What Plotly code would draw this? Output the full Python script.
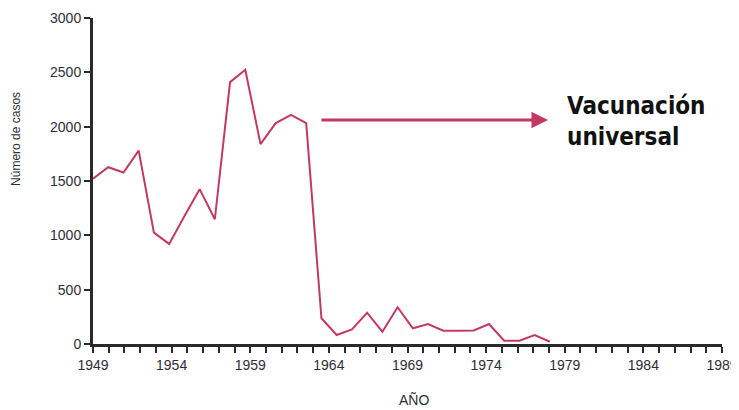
import plotly.graph_objects as go

# ---- data ----
years = list(range(1949, 1980))
cases = [1520, 1627, 1578, 1780, 1025, 921, 1175, 1425, 1148, 2410,
         2524, 1839, 2033, 2109, 2033, 237, 83, 135, 288, 113,
         338, 145, 184, 123, 123, 125, 184, 30, 30, 83, 21]

axis_years = [1949, 1989]          # labelled axis span
y_range = [0, 3000]
y_title = "Número de casos"
x_title = "AÑO"
note_text = "Vacunación<br>universal"

LINE_COLOR = "#c23a63"
AXIS_COLOR = "#2a2a2a"
TEXT_COLOR = "#2e2e38"

# the plotted series is drawn a little tighter than the printed year scale
data_span_end = 1990.3

fig = go.Figure()
# empty carrier trace so the labelled year axis is drawn (no marks)
fig.add_trace(go.Scatter(x=axis_years, y=[None, None], mode="lines",
                         xaxis="x", yaxis="y", hoverinfo="skip", showlegend=False))
fig.add_trace(go.Scatter(
    x=years, y=cases, mode="lines",
    line=dict(color=LINE_COLOR, width=2),
    xaxis="x2", yaxis="y", hoverinfo="skip", showlegend=False,
))

tickfont = dict(family="Liberation Sans, Arial, sans-serif", size=14, color=TEXT_COLOR)

fig.update_layout(
    width=731, height=402,
    margin=dict(l=85, r=17, t=10, b=66, autoexpand=False),
    paper_bgcolor="white", plot_bgcolor="white",
    showlegend=False,
    xaxis=dict(
        range=axis_years, tick0=1949, dtick=5, automargin=False,
        ticks="outside", ticklen=6, tickwidth=2, tickcolor=AXIS_COLOR,
        minor=dict(dtick=1, tick0=1949, ticks="outside", ticklen=6,
                   tickwidth=2, tickcolor=AXIS_COLOR, showgrid=False),
        showline=True, linewidth=3, linecolor=AXIS_COLOR,
        showgrid=False, zeroline=False, tickfont=tickfont,
    ),
    xaxis2=dict(
        range=[axis_years[0], data_span_end], overlaying="x", anchor="y",
        visible=False, showgrid=False, zeroline=False, automargin=False,
    ),
    yaxis=dict(
        range=y_range, dtick=500, tick0=0, automargin=False,
        ticks="outside", ticklen=6, tickwidth=1.5, tickcolor=AXIS_COLOR,
        showline=True, linewidth=3, linecolor=AXIS_COLOR,
        showgrid=False, zeroline=False, tickfont=tickfont,
    ),
    annotations=[
        dict(text=y_title, textangle=-90, xref="paper", yref="paper",
             x=-0.1224, y=0.629, xanchor="center", yanchor="middle",
             showarrow=False,
             font=dict(family="Liberation Sans, Arial, sans-serif", size=12, color=TEXT_COLOR)),
        dict(text=x_title, xref="paper", yref="paper",
             x=0.510, y=-0.172, xanchor="center", yanchor="middle",
             showarrow=False,
             font=dict(family="Liberation Sans, Arial, sans-serif", size=14, color=TEXT_COLOR)),
        dict(text="", xref="paper", yref="paper", x=0.7234, y=0.687,
             ax=-228, ay=0, showarrow=True, arrowhead=2, arrowsize=1.1,
             arrowwidth=3, arrowcolor=LINE_COLOR),
        dict(text="<b>" + note_text + "</b>", xref="paper", yref="paper",
             x=0.7504, y=0.684, xanchor="left", yanchor="middle", align="left",
             showarrow=False,
             font=dict(family="DejaVu Sans Condensed, DejaVu Sans, sans-serif", size=24, color="#111111")),
    ],
)

fig.write_html("out.html")
